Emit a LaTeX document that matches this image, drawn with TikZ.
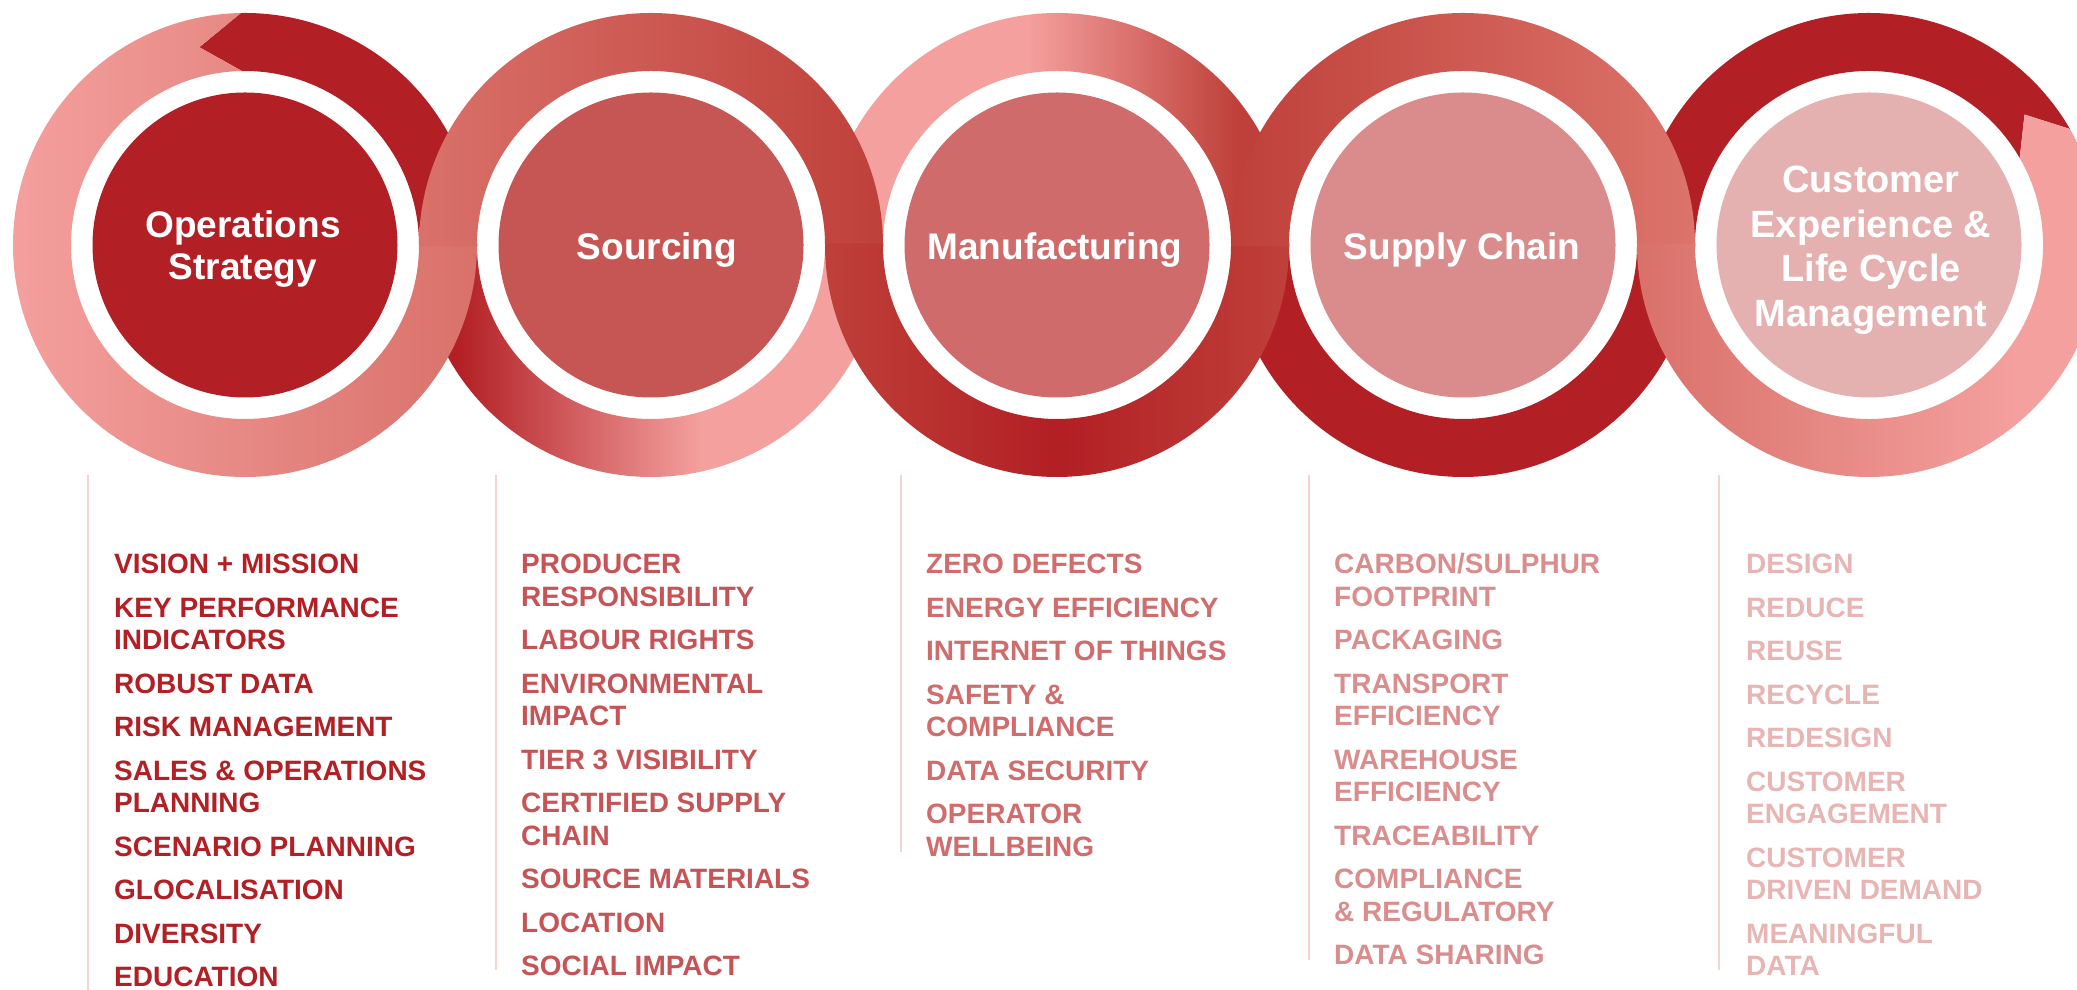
\documentclass[tikz,border=0pt]{standalone}
\usepackage{fontspec}
\setmainfont{Liberation Sans}
\definecolor{dred}{HTML}{B21F24}
\definecolor{pinkL}{HTML}{F4A09E}
\definecolor{rose}{HTML}{D9716A}
\definecolor{brick}{HTML}{BF403A}
\definecolor{roseB}{HTML}{DC746B}
\definecolor{disc1}{HTML}{B21F24}
\definecolor{disc2}{HTML}{C65654}
\definecolor{disc3}{HTML}{CF6B6A}
\definecolor{disc4}{HTML}{D98C8B}
\definecolor{disc5}{HTML}{E4B1B0}
\definecolor{txt1}{HTML}{B21F24}
\definecolor{txt2}{HTML}{C65457}
\definecolor{txt3}{HTML}{D06C6C}
\definecolor{txt4}{HTML}{DA8D8D}
\definecolor{txt5}{HTML}{E8B5B5}
\definecolor{rulec}{HTML}{F5D3D3}
% horizontal shadings: 25bp..75bp maps onto x = -232..232 of each ring
\pgfdeclarehorizontalshading{shAone}{100bp}{color(0bp)=(pinkL); color(25bp)=(pinkL); color(75bp)=(rose); color(100bp)=(rose)}
\pgfdeclarehorizontalshading{shAtwo}{100bp}{color(0bp)=(rose); color(25bp)=(rose); color(75bp)=(brick); color(100bp)=(brick)}
\pgfdeclarehorizontalshading{shAthree}{100bp}{color(0bp)=(brick); color(25bp)=(brick); color(50bp)=(dred); color(75bp)=(brick); color(100bp)=(brick)}
\pgfdeclarehorizontalshading{shAfour}{100bp}{color(0bp)=(brick); color(25bp)=(brick); color(75bp)=(roseB); color(100bp)=(roseB)}
\pgfdeclarehorizontalshading{shAfive}{100bp}{color(0bp)=(rose); color(25bp)=(rose); color(66bp)=(pinkL); color(100bp)=(pinkL)}
\pgfdeclarehorizontalshading{shBtwo}{100bp}{color(0bp)=(dred); color(29bp)=(dred); color(55.4bp)=(pinkL); color(100bp)=(pinkL)}
\pgfdeclarehorizontalshading{shBthree}{100bp}{color(0bp)=(pinkL); color(46.8bp)=(pinkL); color(69.4bp)=(brick); color(100bp)=(brick)}
\newcommand\Ln[1]{\hbox{#1}}
\newcommand\Gp{\vskip 11pt}
\newcommand\Cl[1]{\hbox to 0pt{\hss#1\hss}}
% half-ring paths centred at the origin, extended 1.5 units past the horizontal
\newcommand\TopHalf{(-232,-1.5) -- (-232,0) arc[start angle=180,end angle=0,radius=232] -- (232,-1.5) -- (174,-1.5) -- (174,0) arc[start angle=0,end angle=180,radius=174] -- (-174,-1.5) -- cycle}
\newcommand\BotHalf{(-232,1.5) -- (-232,0) arc[start angle=180,end angle=360,radius=232] -- (232,1.5) -- (174,1.5) -- (174,0) arc[start angle=360,end angle=180,radius=174] -- (-174,1.5) -- cycle}
\tikzset{
  listtext/.style={anchor=base west, inner sep=0pt, font=\fontsize{28}{32.5}\selectfont\bfseries},
  headtext/.style={anchor=base, inner sep=0pt, text=white, font=\fontsize{37}{42}\selectfont\bfseries},
  headbig/.style={anchor=base, inner sep=0pt, text=white, font=\fontsize{38}{44.5}\selectfont\bfseries},
  colrule/.style={draw=rulec, line width=2.5pt},
  disc/.style={circle, minimum size=305pt, inner sep=0pt, draw=none},
}
\begin{document}
\begin{tikzpicture}[x=1pt,y=1pt]
\useasboundingbox (0,0) rectangle (2077,990);
\clip (0,0) rectangle (2077,990);
\fill[white] (0,0) rectangle (2077,990);

% ---------- ribbon B (underneath) ----------
\begin{scope}[shift={(245,745)}]
  \fill[dred] (103:203) -- (91:232) arc[start angle=91,end angle=0,radius=232]
    -- (232,-1.5) -- (174,-1.5) -- (0:174) arc[start angle=0,end angle=91,radius=174] -- cycle;
\end{scope}
\begin{scope}[shift={(651,745)}]
  \shade[shading=shBtwo] \BotHalf;
\end{scope}
\begin{scope}[shift={(1057,745)}]
  \shade[shading=shBthree] \TopHalf;
\end{scope}
\begin{scope}[shift={(1463,745)}]
  \fill[dred] \BotHalf;
\end{scope}
\begin{scope}[shift={(1869,745)}]
  \fill[dred] (-232,-1.5) -- (180:232) arc[start angle=180,end angle=30,radius=232] -- (40:203) -- (30:174) arc[start angle=30,end angle=180,radius=174] -- (-174,-1.5) -- cycle;
\end{scope}

% ---------- ribbon A (on top) ----------
\begin{scope}[shift={(245,745)}]
  \shade[shading=shAone] (91:232) arc[start angle=91,end angle=360,radius=232] -- (232,1.5) -- (174,1.5) -- (0:174) arc[start angle=360,end angle=91,radius=174] -- (103:203) -- cycle;
\end{scope}
\begin{scope}[shift={(651,745)}]
  \shade[shading=shAtwo] \TopHalf;
\end{scope}
\begin{scope}[shift={(1057,745)}]
  \shade[shading=shAthree] \BotHalf;
\end{scope}
\begin{scope}[shift={(1463,745)}]
  \shade[shading=shAfour] \TopHalf;
\end{scope}
\begin{scope}[shift={(1869,745)}]
  \shade[shading=shAfive] (-232,1.5) -- (180:232) arc[start angle=180,end angle=390,radius=232] -- (40:203) -- (30:174) arc[start angle=390,end angle=180,radius=174] -- (-174,1.5) -- cycle;
\end{scope}

% ---------- discs ----------
\node[disc, fill=disc1] (d1) at (245,745) {};
\node[disc, fill=disc2] (d2) at (651,745) {};
\node[disc, fill=disc3] (d3) at (1057,745) {};
\node[disc, fill=disc4] (d4) at (1463,745) {};
\node[disc, fill=disc5] (d5) at (1869,745) {};

\node[headtext] (h1) at (243,752) {\vtop{\Cl{Operations}\Cl{Strategy}}};
\node[headtext] (h2) at (657,730) {Sourcing};
\node[headtext] (h3) at (1055,730) {Manufacturing};
\node[headtext] (h4) at (1462,730) {Supply Chain};
\node[headbig] (h5) at (1871,797) {\vtop{\Cl{Customer}\Cl{Experience \&}\Cl{Life Cycle}\Cl{Management}}};

% ---------- column rules ----------
\draw[colrule] (88,515) -- (88,0);
\draw[colrule] (496,515) -- (496,20);
\draw[colrule] (901,515) -- (901,138);
\draw[colrule] (1309,515) -- (1309,30);
\draw[colrule] (1719,515) -- (1719,20);

% ---------- lists ----------
\node[listtext, text=txt1] (l1) at (114,416) {\vtop{%
  \Ln{VISION + MISSION}\Gp
  \Ln{KEY PERFORMANCE}\Ln{INDICATORS}\Gp
  \Ln{ROBUST DATA}\Gp
  \Ln{RISK MANAGEMENT}\Gp
  \Ln{SALES \& OPERATIONS}\Ln{PLANNING}\Gp
  \Ln{SCENARIO PLANNING}\Gp
  \Ln{GLOCALISATION}\Gp
  \Ln{DIVERSITY}\Gp
  \Ln{EDUCATION}}};
\node[listtext, text=txt2] (l2) at (521,416) {\vtop{%
  \Ln{PRODUCER}\Ln{RESPONSIBILITY}\Gp
  \Ln{LABOUR RIGHTS}\Gp
  \Ln{ENVIRONMENTAL}\Ln{IMPACT}\Gp
  \Ln{TIER 3 VISIBILITY}\Gp
  \Ln{CERTIFIED SUPPLY}\Ln{CHAIN}\Gp
  \Ln{SOURCE MATERIALS}\Gp
  \Ln{LOCATION}\Gp
  \Ln{SOCIAL IMPACT}}};
\node[listtext, text=txt3] (l3) at (926,416) {\vtop{%
  \Ln{ZERO DEFECTS}\Gp
  \Ln{ENERGY EFFICIENCY}\Gp
  \Ln{INTERNET OF THINGS}\Gp
  \Ln{SAFETY \&}\Ln{COMPLIANCE}\Gp
  \Ln{DATA SECURITY}\Gp
  \Ln{OPERATOR}\Ln{WELLBEING}}};
\node[listtext, text=txt4] (l4) at (1334,416) {\vtop{%
  \Ln{CARBON/SULPHUR}\Ln{FOOTPRINT}\Gp
  \Ln{PACKAGING}\Gp
  \Ln{TRANSPORT}\Ln{EFFICIENCY}\Gp
  \Ln{WAREHOUSE}\Ln{EFFICIENCY}\Gp
  \Ln{TRACEABILITY}\Gp
  \Ln{COMPLIANCE}\Ln{\& REGULATORY}\Gp
  \Ln{DATA SHARING}}};
\node[listtext, text=txt5] (l5) at (1746,416) {\vtop{%
  \Ln{DESIGN}\Gp
  \Ln{REDUCE}\Gp
  \Ln{REUSE}\Gp
  \Ln{RECYCLE}\Gp
  \Ln{REDESIGN}\Gp
  \Ln{CUSTOMER}\Ln{ENGAGEMENT}\Gp
  \Ln{CUSTOMER}\Ln{DRIVEN DEMAND}\Gp
  \Ln{MEANINGFUL}\Ln{DATA}}};
\end{tikzpicture}
\end{document}
